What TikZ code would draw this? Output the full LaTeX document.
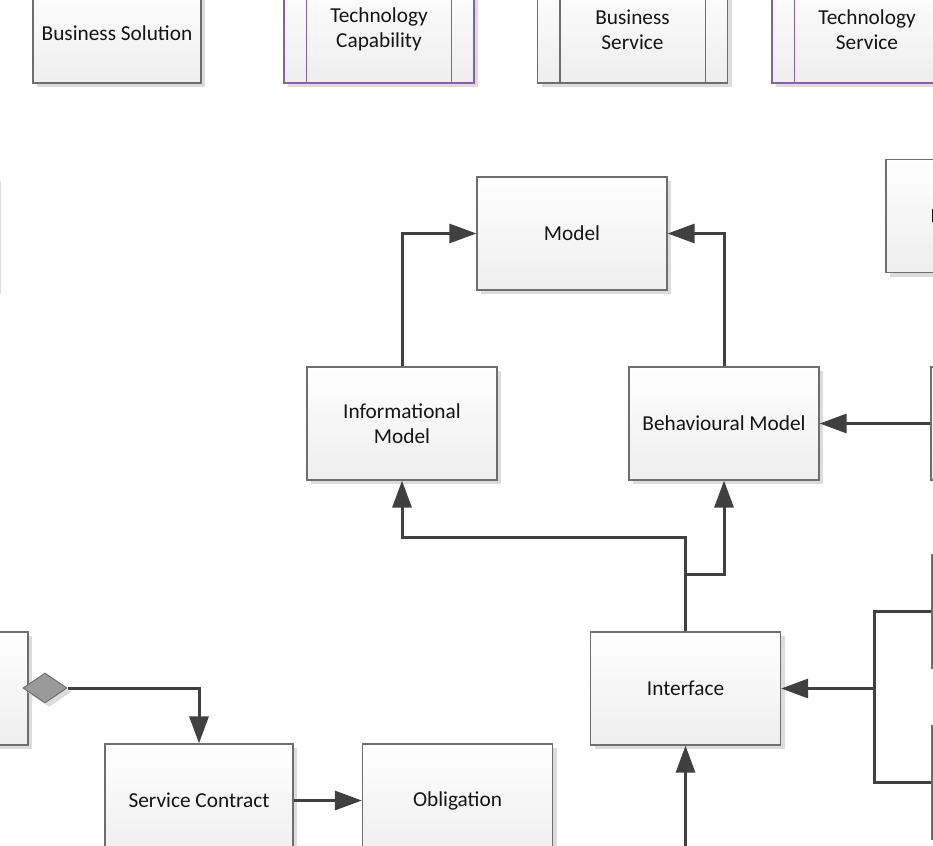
\documentclass[tikz,border=0pt]{standalone}
\usepackage{fontspec}
\setmainfont{Carlito}
\usetikzlibrary{arrows.meta,shapes.geometric,shadows}
\definecolor{boxline}{HTML}{6E6E6E}
\definecolor{boxbot}{HTML}{EEEEEE}
\definecolor{shadowgray}{HTML}{DCDCDC}
\definecolor{purpleline}{HTML}{8A5DB0}
\definecolor{connline}{HTML}{404040}
\definecolor{txt}{HTML}{141414}
\definecolor{diafill}{HTML}{9A9A9A}
\tikzset{
  box/.style={draw=boxline, line width=1.2pt, top color=white, bottom color=boxbot,
    minimum width=190pt, minimum height=113pt, inner sep=0pt, align=center,
    text=txt, font=\fontsize{21.3}{25}\selectfont,
    drop shadow={shadow xshift=4pt, shadow yshift=-4pt, fill=shadowgray, opacity=1}},
  purplebox/.style={box, draw=purpleline},
  toprow/.style={minimum height=107pt},
  conn/.style={draw=connline, line width=3pt},
  arr/.style={conn, -{Triangle[length=27pt,width=19pt]}},
  innerline/.style={line width=1.2pt},
}
\begin{document}
\begin{tikzpicture}[x=1pt,y=-1pt]
\useasboundingbox (0,0) rectangle (933,845);

% top row
\node[box, minimum width=168pt, minimum height=100pt] (bsol) at (117,33) {Business Solution};
\node[purplebox, toprow] (tcap) at (379,29.5) {Technology\\Capability};
\node[box, toprow] (bsvc) at (632.5,29.5) {Business\\Service};
\node[purplebox, toprow] (tsvc) at (867,29.5) {Technology\\Service};
\foreach \b/\c in {tcap/purpleline, bsvc/boxline, tsvc/purpleline}{
  \draw[innerline, draw=\c] ([xshift=23pt]\b.north west) -- ([xshift=23pt]\b.south west);
  \draw[innerline, draw=\c] ([xshift=-23pt]\b.north east) -- ([xshift=-23pt]\b.south east);
}

% side boxes running off the page
\node[box] (lefttop) at (-98,233.5) {};
\node[box] (righttop) at (981,216) {};
\draw[line width=1.6pt, txt] (932.5,208.5) -- (932.5,221.5);
\node[box] (rightmid) at (1026,423.5) {};
\node[box] (rightlowa) at (1027,611.5) {};
\node[box] (rightlowb) at (1027,782.5) {};
\node[box] (leftlow) at (-67,688.5) {};

% models
\node[box] (model) at (572,233.5) {Model};
\node[box] (infm) at (402,423.5) {Informational\\Model};
\node[box] (behm) at (724,423.5) {Behavioural Model};

% interface and contract
\node[box] (iface) at (685.5,688.5) {Interface};
\node[box, minimum width=188pt] (svc) at (199,800.5) {Service Contract};
\node[box] (oblig) at (457.5,800.5) {Obligation};

\node[diamond, draw=boxline, line width=1pt, fill=diafill, minimum width=44pt,
  minimum height=30pt, inner sep=0pt,
  drop shadow={shadow xshift=4pt, shadow yshift=-4pt, fill=shadowgray, opacity=1}]
  (dia) at (45,688) {};

% junctions
\coordinate (j1) at (685.5,537);
\coordinate (j2) at (685.5,574);
\coordinate (bus) at (874,688.5);
\coordinate (below) at (685.5,850);

% connectors
\draw[arr] (infm.north) |- (model.west);
\draw[arr] (behm.north) |- (model.east);
\draw[arr] (iface.north) -- (j1) -| (infm.south);
\draw[arr] (j2) -| (behm.south);
\draw[arr] (rightmid.west) -- (behm.east);
\draw[conn] (rightlowa.west) -| (bus);
\draw[conn] (rightlowb.west) -| (bus);
\draw[arr] (bus) -- (iface.east);
\draw[arr] (below) -- (iface.south);
\draw[arr] (dia.east) -| (svc.north);
\draw[arr] (svc.east) -- (oblig.west);
\end{tikzpicture}
\end{document}
